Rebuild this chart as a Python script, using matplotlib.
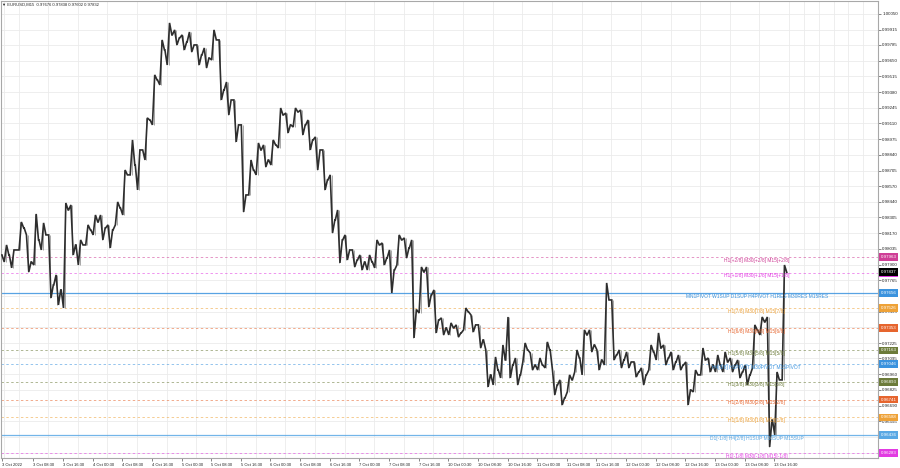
import matplotlib
matplotlib.use("Agg")
import matplotlib.pyplot as plt
import matplotlib.transforms as mtransforms

plt.rcParams["font.family"] = ["Liberation Sans", "DejaVu Sans"]

# ---------------- data (EURUSD M15, 2-hour blocks of 8 bars) ----------------
block_high = [0.98068, 0.98025, 0.98265, 0.98154, 0.98334, 0.98257, 0.98154, 0.97811, 0.98428, 0.98411,
              0.98111, 0.98240, 0.98325, 0.98325, 0.98240, 0.98437, 0.98711, 0.98969, 0.98883, 0.99158,
              0.99527, 0.99827, 0.99973, 0.99913, 0.99870, 0.99895, 0.99784, 0.99758, 0.99913, 0.99827,
              0.99466, 0.99312, 0.99098, 0.98797, 0.98943, 0.98926, 0.98969, 0.99243, 0.99200, 0.99243,
              0.99226, 0.99140, 0.98995, 0.98883, 0.98669, 0.98368, 0.98154, 0.98025, 0.97982, 0.97982,
              0.98111, 0.98085, 0.98025, 0.98154, 0.98128, 0.98111, 0.97879, 0.97879, 0.97682, 0.97442,
              0.97399, 0.97382, 0.97527, 0.97467, 0.97382, 0.97167, 0.97107, 0.97210, 0.97450, 0.97098,
              0.97227, 0.97141, 0.97098, 0.97236, 0.96995, 0.96910, 0.96953, 0.97167, 0.97339, 0.97339,
              0.97167, 0.97742, 0.97596, 0.97167, 0.97150, 0.97064, 0.97013, 0.97210, 0.97313, 0.97210,
              0.97150, 0.97124, 0.97064, 0.96995, 0.97184, 0.97098, 0.97124, 0.97150, 0.97098, 0.97081,
              0.97038, 0.97382, 0.97450, 0.97450, 0.96978, 0.97896]
block_low = [0.97922, 0.97871, 0.98025, 0.97836, 0.97896, 0.98025, 0.97613, 0.97553, 0.97527, 0.97982,
             0.97896, 0.98068, 0.98154, 0.98111, 0.98042, 0.98240, 0.98325, 0.98669, 0.98540, 0.98797,
             0.99098, 0.99441, 0.99612, 0.99784, 0.99741, 0.99724, 0.99612, 0.99587, 0.99655, 0.99312,
             0.99183, 0.98952, 0.98351, 0.98497, 0.98669, 0.98737, 0.98754, 0.98900, 0.99029, 0.99080,
             0.99012, 0.98883, 0.98711, 0.98540, 0.98171, 0.97914, 0.97939, 0.97879, 0.97853, 0.97853,
             0.97871, 0.97896, 0.97656, 0.97896, 0.97956, 0.97270, 0.97484, 0.97536, 0.97313, 0.97296,
             0.97296, 0.97278, 0.97339, 0.97321, 0.97184, 0.96850, 0.96867, 0.96927, 0.96927, 0.96867,
             0.97064, 0.96995, 0.96995, 0.97013, 0.96781, 0.96695, 0.96807, 0.96978, 0.96953, 0.97150,
             0.96995, 0.97038, 0.97081, 0.97013, 0.97013, 0.96935, 0.96867, 0.96995, 0.97081, 0.97038,
             0.96995, 0.96995, 0.96695, 0.96807, 0.96953, 0.96978, 0.96978, 0.96978, 0.96978, 0.96927,
             0.96867, 0.97013, 0.97296, 0.96335, 0.96438, 0.96910]
block_close = [0.97982, 0.98025, 0.98214, 0.97922, 0.98111, 0.98154, 0.97725, 0.97682, 0.98368, 0.98068,
               0.98068, 0.98197, 0.98265, 0.98214, 0.98197, 0.98385, 0.98669, 0.98754, 0.98883, 0.99140,
               0.99484, 0.99741, 0.99870, 0.99844, 0.99810, 0.99784, 0.99698, 0.99672, 0.99827, 0.99398,
               0.99312, 0.99098, 0.98497, 0.98711, 0.98883, 0.98797, 0.98926, 0.99183, 0.99098, 0.99209,
               0.99098, 0.98969, 0.98883, 0.98626, 0.98282, 0.98111, 0.98025, 0.97939, 0.97922, 0.97922,
               0.98068, 0.97956, 0.97853, 0.98111, 0.98042, 0.97510, 0.97836, 0.97639, 0.97424, 0.97356,
               0.97356, 0.97313, 0.97493, 0.97382, 0.97253, 0.96953, 0.96995, 0.97081, 0.97038, 0.96953,
               0.97167, 0.97038, 0.97038, 0.97167, 0.96867, 0.96755, 0.96910, 0.97098, 0.97296, 0.97210,
               0.97081, 0.97596, 0.97124, 0.97081, 0.97064, 0.96978, 0.96953, 0.97150, 0.97184, 0.97098,
               0.97064, 0.97038, 0.96824, 0.96953, 0.97081, 0.97038, 0.97038, 0.97064, 0.97038, 0.96978,
               0.96953, 0.97339, 0.97407, 0.96566, 0.96910, 0.97832]

time_labels = ["3 Oct 2022", "3 Oct 08:30", "3 Oct 16:30", "4 Oct 00:30", "4 Oct 08:30", "4 Oct 16:30",
               "5 Oct 00:30", "5 Oct 08:30", "5 Oct 16:30", "6 Oct 00:30", "6 Oct 08:30", "6 Oct 16:30",
               "7 Oct 00:30", "7 Oct 08:30", "7 Oct 16:30", "10 Oct 00:30", "10 Oct 08:30", "10 Oct 16:30",
               "11 Oct 00:30", "11 Oct 08:30", "11 Oct 16:30", "12 Oct 00:30", "12 Oct 08:30", "12 Oct 16:30",
               "13 Oct 00:30", "13 Oct 08:30", "13 Oct 16:30"]

price_ticks = [1.00050, 0.99915, 0.99785, 0.99650, 0.99515, 0.99380, 0.99245, 0.99110, 0.98975, 0.98840,
               0.98705, 0.98570, 0.98440, 0.98305, 0.98170, 0.98035, 0.97900, 0.97765, 0.97630, 0.97495,
               0.97360, 0.97225, 0.97095, 0.96960, 0.96825, 0.96690, 0.96555, 0.96420, 0.96285]

level_prices = [0.97963, 0.97829, 0.97656, 0.97526, 0.97353, 0.97163, 0.97046, 0.96893, 0.96741,
                0.96588, 0.96436, 0.96283]
level_texts = ["H1[+2/8] M30[+2/8] M15[+2/8]",
               "H1[+1/8] M30[+1/8] M15[+1/8]",
               "MN1PIVOT W1SUP D1SUP H4PIVOT H1RES M30RES M15RES",
               "H1[7/8] M30[7/8] M15[7/8]",
               "H1[6/8] M30[6/8] M15[6/8]",
               "H1[5/8] M30[5/8] M15[5/8]",
               "H4[3/8] H1PIVOT M30PIVOT M15PIVOT",
               "H1[3/8] M30[3/8] M15[3/8]",
               "H1[2/8] M30[2/8] M15[2/8]",
               "H1[1/8] M30[1/8] M15[1/8]",
               "D1[-1/8] H4[2/8] H1SUP M30SUP M15SUP",
               "H1[-1/8] M30[-1/8] M15[-1/8]"]
current_bid = 0.97837
header = "\u25BC EURUSD,M15  0.97676 0.97838 0.97602 0.97832"

# ---------------- styling ----------------
level_colors = ["#cf3f96", "#e23be2", "#3b93de", "#eea238", "#e6652e", "#6c7b3a",
                "#3b93de", "#6c7b3a", "#e6652e", "#eea238", "#5aa8e4", "#e23be2"]
level_solid = [False, False, True, False, False, False, False, False, False, False, True, False]

BARS_PER_BLOCK = 8
PX_PER_BAR = 0.9375

fig = plt.figure(figsize=(9.0, 4.68), dpi=100)
ax_w_px, ax_h_px = 877, 457
ax = fig.add_axes([1 / 900, 10 / 468, ax_w_px / 900, ax_h_px / 468])
ax.set_facecolor("white")

ax.set_xlim(-1, ax_w_px / PX_PER_BAR - 1)
ax.set_ylim(0.96240, 1.00161)

# grid
ax.set_axisbelow(True)
ax.set_xticks([2 + 16 * j for j in range(60)], minor=True)
ax.grid(which="minor", axis="x", color="#ebebeb", lw=0.6)
ax.set_yticks(price_ticks)
ax.set_yticklabels([f"{p:.5f}" for p in price_ticks])
ax.grid(which="major", axis="y", color="#ebebeb", lw=0.6)
ax.tick_params(which="minor", length=0)

tick_bars = [0] + [34 + 32 * j for j in range(len(time_labels) - 1)]
ax.set_xticks(tick_bars)
ax.set_xticklabels(time_labels)
for lbl in ax.get_xticklabels():
    lbl.set_horizontalalignment("left")
ax.tick_params(axis="x", which="major", length=2, width=0.5, pad=1.5, labelsize=3.0,
               colors="#555555", labelcolor="#222222")
ax.yaxis.tick_right()
ax.tick_params(axis="y", which="major", length=2, width=0.5, pad=1, labelsize=3.2,
               colors="#555555", labelcolor="#222222")

for s in ax.spines.values():
    s.set_color("#a8a8a8")
    s.set_linewidth(0.8)

# level lines
for p, c, solid in zip(level_prices, level_colors, level_solid):
    if solid:
        ax.axhline(p, color=c, lw=0.9, alpha=0.85, zorder=1.5)
    else:
        ax.axhline(p, color=c, lw=0.7, alpha=0.55, ls=(0, (2.5, 2.5)), zorder=1.5)

# price path (OHLC blocks drawn as a continuous trace)
xs, ys = [], []
for k in range(len(block_close)):
    o = block_close[k - 1] if k > 0 else block_close[0]
    h, l, c = block_high[k], block_low[k], block_close[k]
    x0 = BARS_PER_BLOCK * k
    seq = [o, l, h, c] if c >= o else [o, h, l, c]
    xs += [x0, x0 + 2.5, x0 + 5, x0 + 7.5]
    ys += seq
ax.vlines([BARS_PER_BLOCK * k + 4 for k in range(len(block_close))], block_low, block_high,
          color="#9a9a9a", lw=0.6, zorder=2.8)
ax.plot(xs, ys, color="#2e2e2e", lw=1.2, zorder=3, solid_joinstyle="miter")

# level texts
for p, t, c in zip(level_prices, level_texts, level_colors):
    ax.annotate(t, (815, p), xytext=(0, -2.2), textcoords="offset points",
                ha="center", va="center", fontsize=3.5, color=c, zorder=4)

# right-axis price boxes
trans = mtransforms.blended_transform_factory(ax.transAxes, ax.transData)
box_x = 1.0 + 2.5 / ax_w_px
for p, c in zip(level_prices, level_colors):
    ax.text(box_x, p, f"{p:.5f}", transform=trans, fontsize=3.2, color="white",
            ha="left", va="center", clip_on=False, zorder=6,
            bbox=dict(boxstyle="square,pad=0.4", fc=c, ec="none"))
ax.text(box_x, current_bid, f"{current_bid:.5f}", transform=trans, fontsize=3.2, color="white",
        ha="left", va="center", clip_on=False, zorder=6,
        bbox=dict(boxstyle="square,pad=0.4", fc="#000000", ec="none"))

fig.text(2 / 900, 1 - 5 / 468, header, fontsize=3.0, color="#222222", ha="left", va="center")

fig.savefig("out.png", dpi=100, facecolor="white")
